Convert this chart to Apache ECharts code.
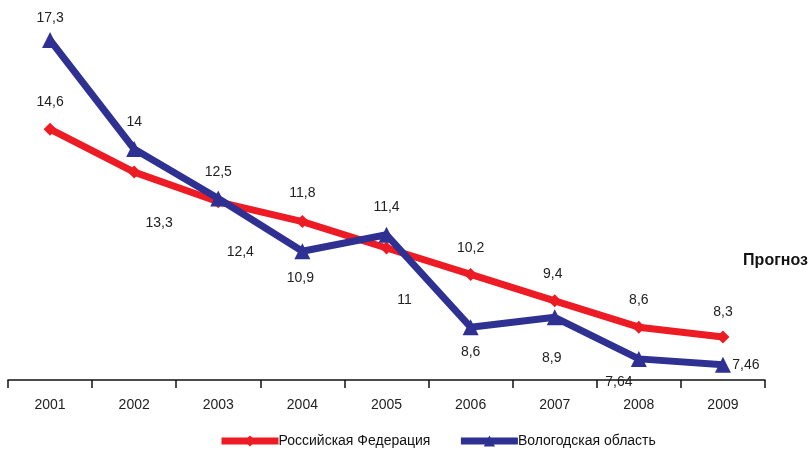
<!DOCTYPE html>
<html><head><meta charset="utf-8">
<script src="https://cdn.jsdelivr.net/npm/echarts@6/dist/echarts.min.js"></script>
<style>html,body{margin:0;padding:0;background:#fff}#c{width:810px;height:453px}</style>
</head><body><div id="c"></div>
<script>
var categories = ['2001','2002','2003','2004','2005','2006','2007','2008','2009'];
var russiaValues = [14.6, 13.3, 12.4, 11.8, 11, 10.2, 9.4, 8.6, 8.3];
var vologdaValues = [17.3, 14, 12.5, 10.9, 11.4, 8.6, 8.9, 7.64, 7.46];
var seriesNames = ['Российская Федерация', 'Вологодская область'];
var forecastText = 'Прогноз';

// label offsets (style only)
var russiaLabelOffsets = [[0,-27],[25,51],[22,50],[0,-28],[18,52],[0,-26],[-2,-27],[0,-27],[0,-25]];
var vologdaLabelOffsets = [[0,-22],[0,-27],[0,-26],[-2,27],[0,-28],[0,25],[-3,41],[-20,23],[23,0]];

function fmt(v){ return String(v).replace('.', ','); }
function build(vals, offs){
  return vals.map(function(v,i){
    return {value: v, label: {offset: offs[i]}};
  });
}
var FONT = 'Liberation Sans, Arial, sans-serif';
var labelBase = {show:true, position:'inside', color:'#222', fontSize:14, fontFamily:FONT,
  formatter:function(p){return fmt(p.value);}};

var chart = echarts.init(document.getElementById('c'), null, {renderer:'canvas'});
chart.setOption({
  animation:false,
  backgroundColor:'#fff',
  grid:{left:8, right:45, top:17, bottom:73, containLabel:false},
  legend:{
    top:429, left:213, itemWidth:57, itemHeight:14, itemGap:27,
    lineStyle:{width:7},
    textStyle:{fontSize:14, color:'#111', fontFamily:FONT, padding:[0,0,0,-5]},
    data:[{name:seriesNames[0]},{name:seriesNames[1]}]
  },
  xAxis:{
    type:'category', data:categories, boundaryGap:true,
    axisLine:{lineStyle:{color:'#111', width:1.5}},
    axisTick:{show:true, length:8, inside:false, lineStyle:{color:'#111', width:1.5}},
    axisLabel:{fontSize:14, color:'#222', margin:18, fontFamily:FONT}
  },
  yAxis:{
    type:'value', min:7, max:18, show:false,
    splitLine:{show:false}
  },
  graphic:[{
    type:'text', right:2, top:253,
    style:{text:forecastText, fontSize:16, fontWeight:'bold', fill:'#111', fontFamily:FONT}
  }],
  series:[
    {
      name:seriesNames[0], type:'line', data:build(russiaValues, russiaLabelOffsets),
      symbol:'diamond', symbolSize:13, z:2,
      itemStyle:{color:'#ed1c24'}, lineStyle:{color:'#ed1c24', width:7},
      label:labelBase
    },
    {
      name:seriesNames[1], type:'line', data:build(vologdaValues, vologdaLabelOffsets),
      symbol:'triangle', symbolSize:16, z:3,
      itemStyle:{color:'#2e3192'}, lineStyle:{color:'#2e3192', width:7},
      label:labelBase
    }
  ]
});
</script></body></html>
